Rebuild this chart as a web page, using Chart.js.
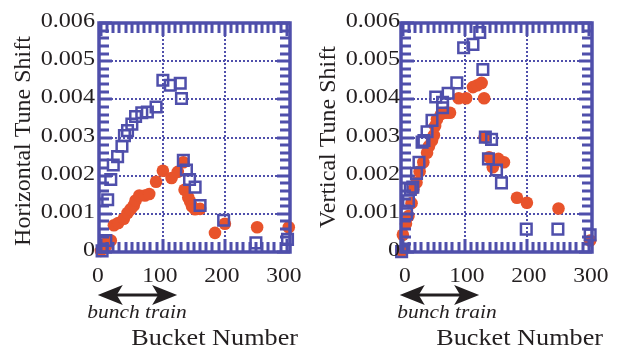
<!DOCTYPE html>
<html>
<head>
<meta charset="utf-8">
<script src="https://cdn.jsdelivr.net/npm/chart.js@4.4.1/dist/chart.umd.min.js"></script>
<style>
  html, body { margin: 0; padding: 0; background: #fff; }
  #wrap { position: relative; width: 621px; height: 351px; }
  canvas { position: absolute; top: 0; }
</style>
</head>
<body>
<div id="wrap">
  <canvas id="hChart" width="310" height="351" style="left:0"></canvas>
  <canvas id="vChart" width="311" height="351" style="left:310px"></canvas>
</div>
<script>
// horizontal tune shift (left panel)
const hSquareX = [2, 8, 11, 16, 20, 27, 34, 38, 43, 50, 56, 66, 75, 89, 100, 112, 128, 130, 133, 138, 143, 152, 160, 198, 250, 301];
const hSquareY = [0.00003, 0.0003, 0.00137, 0.0019, 0.00228, 0.0025, 0.00277, 0.00305, 0.00318, 0.00335, 0.00355, 0.00365, 0.00367, 0.0038, 0.0045, 0.00437, 0.00442, 0.00402, 0.0024, 0.00215, 0.0019, 0.0017, 0.00122, 0.00083, 0.00024, 0.00033];
const hCircleX = [0, 8, 11, 16, 21, 28, 37, 43, 48, 53, 56, 62, 71, 78, 89, 100, 114, 124, 133, 135, 141, 144, 147, 152, 160, 184, 200, 252, 303];
const hCircleY = [0.00003, 0.00015, 0.00028, 0.0003, 0.0007, 0.00076, 0.00087, 0.00102, 0.00112, 0.00122, 0.00135, 0.00148, 0.00148, 0.00152, 0.00184, 0.00213, 0.00194, 0.0021, 0.00235, 0.00163, 0.00143, 0.00132, 0.0012, 0.00112, 0.00113, 0.0005, 0.00074, 0.00065, 0.00065];

// vertical tune shift (right panel)
const vSquareX = [-2, 6, 9, 12, 16, 22, 26, 31, 34, 39, 47, 53, 64, 64, 73, 87, 98, 113, 124, 129, 133, 143, 138, 151, 159, 199, 250, 302];
const vSquareY = [0.00001, 0.001, 0.00134, 0.00164, 0.0017, 0.00206, 0.00235, 0.00288, 0.00292, 0.00315, 0.00345, 0.00406, 0.00392, 0.00378, 0.00416, 0.00443, 0.00535, 0.00544, 0.00575, 0.00478, 0.00301, 0.00295, 0.00244, 0.00215, 0.00181, 0.0006, 0.0006, 0.00045];
const vCircleX = [-2, 0, 5, 9, 14, 17, 22, 27, 33, 39, 42, 47, 50, 52, 55, 62, 70, 76, 90, 102, 113, 120, 127, 131, 132, 139, 145, 154, 163, 184, 200, 251, 302];
const vCircleY = [0.00003, 0.00045, 0.00074, 0.00094, 0.00128, 0.00164, 0.00182, 0.00211, 0.00235, 0.0026, 0.00277, 0.00292, 0.00306, 0.0033, 0.00348, 0.00362, 0.00365, 0.00365, 0.00403, 0.00403, 0.00432, 0.00437, 0.00443, 0.00403, 0.00301, 0.00248, 0.00222, 0.00244, 0.00235, 0.00142, 0.00129, 0.00114, 0.0003];

// axes
const xTicks = [0, 100, 200, 300];
const xGrid = [100, 200];
const yTicks = [0, 0.001, 0.002, 0.003, 0.004, 0.005, 0.006];
const yGrid = [0.001, 0.002, 0.003, 0.004, 0.005];
const yTickLabels = ["0", "0.001", "0.002", "0.003", "0.004", "0.005", "0.006"];
const arrowRange = [-5, 123]; // bunch train

const BLUE = "#4f4fab";
const ORANGE = "#e8532b";
const INK = "#231f20";
const SERIF = '"Liberation Serif", "Times New Roman", serif';

function stretchText(ctx, text, x, y, sx, align) {
    ctx.save();
    ctx.translate(x, y);
    ctx.scale(sx, 1);
    ctx.textAlign = align;
    ctx.textBaseline = "alphabetic";
    ctx.fillText(text, 0, 0);
    ctx.restore();
}

function arrowHead(ctx, x, y, dir) {
    ctx.beginPath();
    ctx.moveTo(x, y);
    ctx.lineTo(x + dir * 25, y - 10);
    ctx.lineTo(x + dir * 19, y);
    ctx.lineTo(x + dir * 25, y + 10);
    ctx.closePath();
    ctx.fill();
}

function makeChart(id, opts) {
    const toPoints = (xs, ys) => xs.map((x, i) => ({ x: x, y: ys[i] }));

    const framePlugin = {
        id: "frame",
        // dotted grid under the points
        beforeDatasetsDraw(chart) {
            const ctx = chart.ctx;
            const a = chart.chartArea;
            const xs = chart.scales.x, ys = chart.scales.y;
            ctx.save();
            ctx.strokeStyle = BLUE;
            ctx.lineWidth = 2;
            ctx.setLineDash([2, 2]);
            ctx.beginPath();
            xGrid.forEach((v) => {
                const px = Math.round(xs.getPixelForValue(v));
                ctx.moveTo(px, a.top); ctx.lineTo(px, a.bottom);
            });
            yGrid.forEach((v) => {
                const py = Math.round(ys.getPixelForValue(v));
                ctx.moveTo(a.left, py); ctx.lineTo(a.right, py);
            });
            ctx.stroke();
            ctx.restore();
        },
        afterDraw(chart) {
            const ctx = chart.ctx;
            const a = chart.chartArea;
            const xs = chart.scales.x, ys = chart.scales.y;
            ctx.save();
            // inward ticks on all four sides
            ctx.fillStyle = BLUE;
            for (let v = 0; v <= 300; v += 10) {
                const px = Math.round(xs.getPixelForValue(v)) - 1.5;
                const len = v % 100 === 0 ? 13 : 10;
                ctx.fillRect(px, a.bottom - len, 3, len);
                ctx.fillRect(px, a.top, 3, len);
            }
            for (let k = 0; k <= 30; k++) {
                const py = Math.round(ys.getPixelForValue(k * 0.0002)) - 1.5;
                const len = k % 5 === 0 ? 13 : 10;
                ctx.fillRect(a.left, py, len, 3);
                ctx.fillRect(a.right - len, py, len, 3);
            }
            ctx.strokeStyle = BLUE;
            ctx.lineWidth = 3.5;
            ctx.strokeRect(a.left, a.top, a.right - a.left, a.bottom - a.top);

            // tick labels
            ctx.fillStyle = INK;
            ctx.font = "21px " + SERIF;
            yTicks.forEach((v, i) => {
                stretchText(ctx, yTickLabels[i], a.left - opts.yLabelGap, ys.getPixelForValue(v) + 4, 1.15, "right");
            });
            xTicks.forEach((v) => {
                stretchText(ctx, String(v), xs.getPixelForValue(v) + opts.xLabelShift, 282, 1.12, "center");
            });

            // axis titles
            ctx.save();
            ctx.translate(opts.titleX, opts.titleY);
            ctx.rotate(-Math.PI / 2);
            ctx.font = "24px " + SERIF;
            ctx.textAlign = "center";
            ctx.textBaseline = "middle";
            ctx.fillText(opts.title, 0, 0);
            ctx.restore();

            ctx.font = "23px " + SERIF;
            stretchText(ctx, "Bucket Number", opts.bucketRight, 345, 1.14, "right");

            // bunch train arrow
            const x1 = xs.getPixelForValue(arrowRange[0]);
            const x2 = xs.getPixelForValue(arrowRange[1]);
            ctx.strokeStyle = INK;
            ctx.lineWidth = 3;
            ctx.beginPath();
            ctx.moveTo(x1 + 18, 295);
            ctx.lineTo(x2 - 18, 295);
            ctx.stroke();
            arrowHead(ctx, x1, 295, 1);
            arrowHead(ctx, x2, 295, -1);
            ctx.font = "italic 19.5px " + SERIF;
            stretchText(ctx, "bunch train", opts.trainX, 318, 1.1, "center");
            ctx.restore();
        },
    };

    return new Chart(document.getElementById(id), {
        type: "scatter",
        data: {
            datasets: [
                {
                    data: toPoints(opts.sqX, opts.sqY),
                    pointStyle: "rect",
                    pointRadius: 7.5,
                    borderColor: BLUE,
                    backgroundColor: "rgba(0,0,0,0)",
                    borderWidth: 2.5,
                    clip: false,
                },
                {
                    data: toPoints(opts.ciX, opts.ciY),
                    pointStyle: "circle",
                    pointRadius: 6.3,
                    backgroundColor: ORANGE,
                    borderWidth: 0,
                    clip: false,
                },
            ],
        },
        options: {
            responsive: false,
            animation: false,
            layout: { padding: { left: opts.padLeft, right: opts.padRight, top: 23, bottom: 99 } },
            plugins: { legend: { display: false }, tooltip: { enabled: false } },
            scales: {
                x: {
                    type: "linear",
                    min: -3,
                    max: 305,
                    afterFit: (s) => { s.height = 0; },
                    ticks: { display: false, stepSize: 100 },
                    grid: { display: false },
                    border: { display: false },
                },
                y: {
                    type: "linear",
                    min: 0,
                    max: 0.006,
                    afterFit: (s) => { s.width = 0; },
                    ticks: { display: false, stepSize: 0.001 },
                    grid: { display: false },
                    border: { display: false },
                },
            },
        },
        plugins: [framePlugin],
    });
}

makeChart("hChart", {
    sqX: hSquareX, sqY: hSquareY, ciX: hCircleX, ciY: hCircleY,
    title: "Horizontal Tune Shift",
    padLeft: 99, padRight: 20,
    yLabelGap: 4, xLabelShift: -3,
    titleX: 24, titleY: 141,
    bucketRight: 298, trainX: 137,
});

makeChart("vChart", {
    sqX: vSquareX, sqY: vSquareY, ciX: vCircleX, ciY: vCircleY,
    title: "Vertical Tune Shift",
    padLeft: 91, padRight: 29,
    yLabelGap: 1, xLabelShift: 2,
    titleX: 19, titleY: 137,
    bucketRight: 293, trainX: 137,
});
</script>
</body>
</html>
